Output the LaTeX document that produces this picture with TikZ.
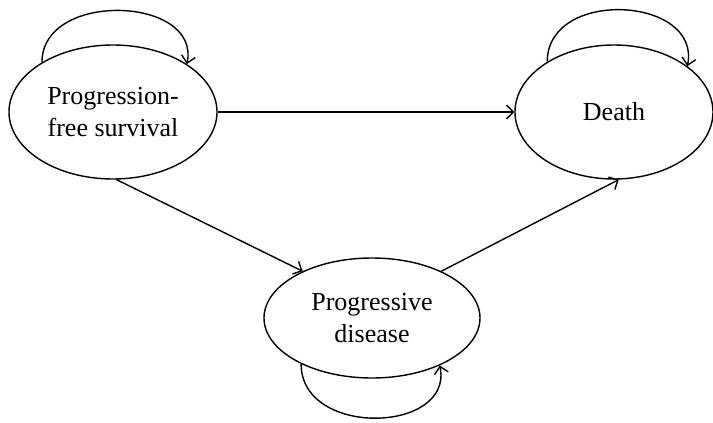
\documentclass[tikz,border=0pt]{standalone}
\usepackage{fontspec}
\setmainfont{Liberation Serif}
\usetikzlibrary{arrows.meta,shapes.geometric}

\begin{document}
\begin{tikzpicture}[x=1pt, y=-1pt,
  state/.style={draw, ellipse, line width=1.4pt, inner sep=0pt, align=center,
    font=\fontsize{26}{32}\selectfont},
  trans/.style={-{Straight Barb[length=7pt,width=14pt,line width=1.4pt]}, line width=1.4pt}]
\useasboundingbox (0,0) rectangle (713,423);

% States of the model
\node[state, minimum width=208pt, minimum height=134pt] (pfs) at (113,112) {Progression-\\free survival};
\node[state, minimum width=198pt, minimum height=134pt] (death) at (614,112) {Death};
\node[state, minimum width=216pt, minimum height=120pt] (pd) at (372,318) {Progressive\\disease};

% Transitions between states
\draw[trans] (pfs.east) -- (death.west);
\draw[trans] (pfs.-87) -- (pd.146);
\draw[trans] (pd.34) -- (death.-86);

% Staying in the same state
\draw[trans] (pfs.145) .. controls +(0,-72) and +(14,-68) .. (pfs.33);
\draw[trans] (death.143) .. controls +(0,-74) and +(14,-70) .. (death.32);
\draw[trans] (pd.213) .. controls +(0,74) and +(14,68) .. (pd.325);

\end{tikzpicture}
\end{document}
